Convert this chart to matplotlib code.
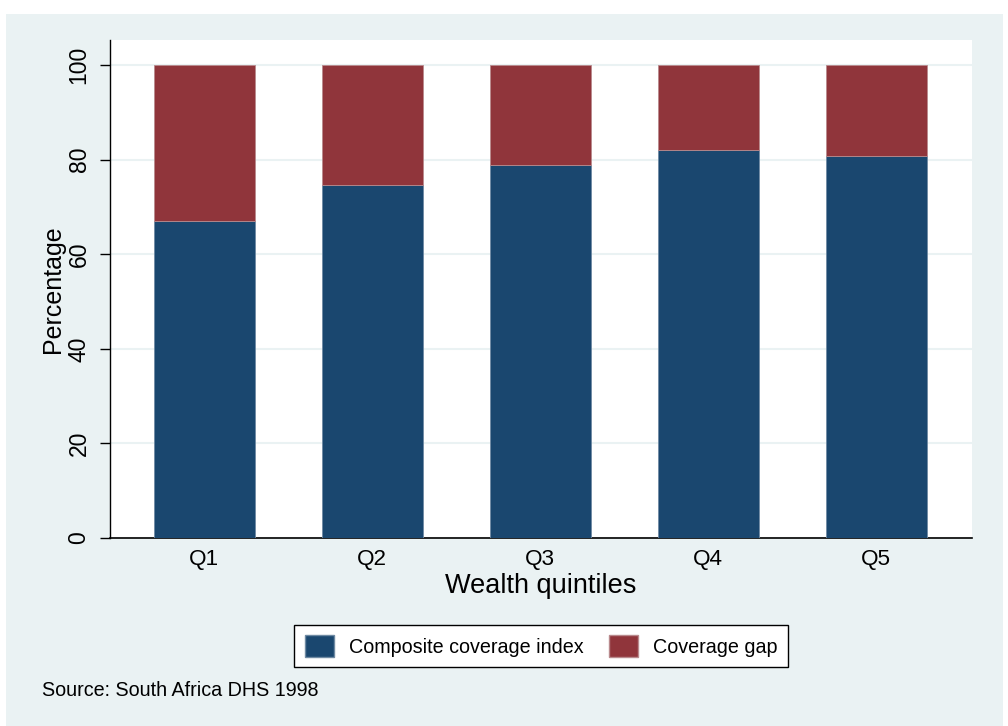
import matplotlib
matplotlib.use("Agg")
import matplotlib.pyplot as plt
from matplotlib.patches import Rectangle, Patch

categories = ["Q1", "Q2", "Q3", "Q4", "Q5"]
coverage = [67.0, 74.6, 78.9, 82.0, 80.8]
gap = [100 - v for v in coverage]
yticks = [0, 20, 40, 60, 80, 100]

navy = "#1A476F"
maroon = "#90353B"
bg = "#EAF2F3"

plt.rcParams['font.family'] = ['Liberation Sans', 'DejaVu Sans']

W, H = 1008, 726
fig = plt.figure(figsize=(W / 100, H / 100), dpi=100)
fig.patch.set_facecolor("white")
# outer light panel
fig.add_artist(Rectangle((6 / W, 0), (1003 - 6) / W, (H - 14) / H,
                         transform=fig.transFigure, facecolor=bg,
                         edgecolor="none", zorder=-10))

left, right, top, bottom = 110, 972, 40, 538
ax = fig.add_axes([left / W, 1 - bottom / H, (right - left) / W, (bottom - top) / H])
ax.set_facecolor("white")

x = list(range(1, len(categories) + 1))
ax.bar(x, coverage, width=0.6, color=navy, edgecolor="#6f8aa3", linewidth=0.6,
       label="Composite coverage index", zorder=3)
ax.bar(x, gap, bottom=coverage, width=0.6, color=maroon, edgecolor="#b98a8d",
       linewidth=0.6, label="Coverage gap", zorder=3)

ax.set_xlim(0.44, 5.57)
ax.set_ylim(0, 105.3)
ax.set_yticks(yticks)
ax.set_yticklabels([str(t) for t in yticks], rotation=90, va="center", fontsize=16.5)
ax.set_xticks(x)
ax.set_xticklabels(categories, fontsize=16.2)
ax.tick_params(axis="x", length=0, pad=8)
ax.tick_params(axis="y", length=7, width=1, pad=7)
ax.yaxis.grid(True, color=bg, linewidth=1.5, zorder=0)
ax.set_axisbelow(True)
for s in ["top", "right"]:
    ax.spines[s].set_visible(False)
ax.spines["left"].set_linewidth(1)
ax.spines["bottom"].set_linewidth(1.2)

ax.set_ylabel("Percentage", fontsize=18, labelpad=2)
ax.set_xlabel("Wealth quintiles", fontsize=19.5, labelpad=2)

handles = [Patch(facecolor=navy, edgecolor="#6f8aa3"),
           Patch(facecolor=maroon, edgecolor="#b98a8d")]
leg = fig.legend(handles, ["Composite coverage index", "Coverage gap"],
                 loc="center", bbox_to_anchor=(541 / W, 1 - 646 / H), ncol=2,
                 fontsize=14.2, frameon=True, fancybox=False, edgecolor="black",
                 facecolor="white", framealpha=1,
                 handlelength=1.47, handleheight=1.27, handletextpad=0.76,
                 columnspacing=1.3, borderpad=0.55)
leg.get_frame().set_linewidth(1)

fig.text(42 / W, 1 - 690 / H, "Source: South Africa DHS 1998", fontsize=14.2,
         va="center", ha="left")

fig.savefig("out.png", dpi=100, facecolor=fig.get_facecolor())
